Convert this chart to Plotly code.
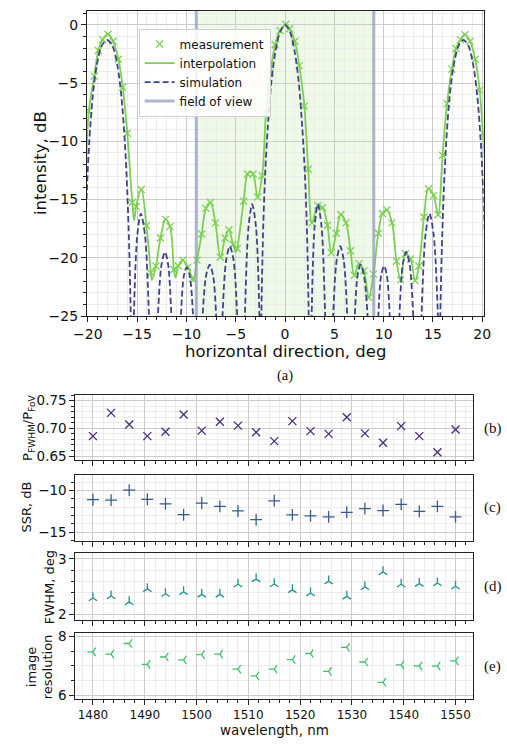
import plotly.graph_objects as go

# ---------------- panel (a) data ----------------
meas_deg = [-19.9, -19.35, -18.93, -18.5, -17.96, -17.44, -16.9, -16.46, -16.0, -15.49,
            -15.1, -14.58, -14.06, -13.6, -13.09, -12.63, -12.12, -11.66, -11.27, -10.82,
            -10.37, -9.85, -9.39, -8.93, -8.45, -8.03, -7.57, -7.06, -6.55, -6.08,
            -5.69, -5.27, -4.85, -4.2, -3.81, -3.23, -2.77, -2.32, -1.93, -1.48,
            -1.0, -0.5, 0.08, 0.47, 0.99, 1.44, 1.96, 2.35, 2.74, 3.33,
            3.81, 4.3, 4.69, 5.2, 5.66, 6.18, 6.64, 7.03, 7.51, 8.0,
            8.49, 8.97, 9.46, 9.88, 10.33, 10.85, 11.31, 11.73, 12.21, 12.73,
            13.19, 13.58, 14.09, 14.55, 15.07, 15.52, 15.98, 16.43, 16.92, 17.34,
            17.79, 18.25, 18.76, 19.29, 19.74, 20.07]
meas_db = [-7.4, -4.4, -2.2, -1.26, -0.8, -1.4, -2.95, -5.35, -9.3, -15.25,
           -15.6, -14.13, -17.23, -21.3, -20.7, -18.3, -16.7, -17.3, -21.0, -20.7,
           -20.2, -20.8, -21.8, -20.2, -17.96, -15.76, -15.25, -17.0, -19.95, -18.3,
           -17.6, -18.86, -19.2, -15.14, -12.8, -12.8, -14.78, -12.95, -7.6, -4.08,
           -1.7, -0.5, 0.05, -0.34, -1.4, -3.5, -6.98, -12.4, -17.0, -15.5,
           -15.7, -17.2, -19.56, -17.9, -16.3, -17.0, -19.4, -21.5, -20.5, -21.1,
           -23.4, -21.4, -17.9, -16.2, -15.9, -17.0, -20.3, -21.9, -19.65, -20.1,
           -21.96, -20.7, -16.5, -14.07, -14.64, -16.3, -11.2, -6.76, -3.8, -2.03,
           -1.27, -0.84, -1.4, -2.95, -5.6, -9.3]

# extra points of the interpolated curve (dips between measurements, ends)
interp_extra_deg = [-20.2, -15.3, -13.5, -11.1, -9.3, -4.97, -3.5, 20.25]
interp_extra_db = [-13.0, -16.8, -21.9, -21.7, -22.0, -19.5, -12.6, -11.5]

sim_deg = [-20.45, -20.3, -20.1, -19.85, -19.5, -19.1, -18.6, -18.05, -17.5, -17.0,
           -16.6, -16.25, -16.0, -15.8, -15.65, -15.5,
           -15.33, -14.98, -14.62, -14.21, -13.8, -13.35,
           -12.89, -12.53, -12.18, -11.85, -11.53, -11.05,
           -10.56, -10.27, -9.98, -9.65, -9.33, -8.85,
           -8.36, -8.0, -7.64, -7.3, -6.99, -6.65,
           -6.34, -5.97, -5.6, -5.22, -4.85, -4.45,
           -4.07, -3.7, -3.33, -2.95, -2.6, -2.5,
           -2.4, -2.2, -2.0, -1.75, -1.4, -1.0, -0.5, 0.0, 0.5, 1.0,
           1.4, 1.75, 2.0, 2.2, 2.4, 2.55,
           2.7, 3.0, 3.33, 3.7, 4.07, 4.47,
           4.88, 5.24, 5.6, 5.95, 6.31, 6.7,
           7.08, 7.36, 7.65, 8.0, 8.37, 8.9,
           9.46, 9.75, 10.05, 10.33, 10.62, 11.1,
           11.6, 11.94, 12.28, 12.64, 13.0, 13.4,
           13.84, 14.25, 14.65, 15.07, 15.5, 15.65,
           15.75, 15.9, 16.1, 16.35, 16.7, 17.1, 17.6, 18.1, 18.6, 19.1,
           19.5, 19.85, 20.1, 20.3, 20.45]
sim_db = [-25, -19.3, -14.3, -10.0, -6.1, -3.5, -1.8, -1.3, -1.8, -3.5,
          -6.1, -10.0, -14.3, -19.3, -25, -40,
          -25, -18.0, -16.2, -18.0, -25, -40,
          -25, -20.6, -19.5, -20.6, -25, -40,
          -25, -21.6, -20.8, -21.6, -25, -40,
          -25, -21.5, -20.6, -21.5, -25, -40,
          -25, -20.2, -19.0, -20.2, -25, -40,
          -25, -17.3, -15.4, -17.3, -25, -40,
          -25, -17.0, -12.5, -8.8, -5.0, -2.4, -0.6, 0.0, -0.6, -2.4,
          -5.0, -8.8, -12.5, -17.0, -25, -40,
          -25, -17.3, -15.4, -17.3, -25, -40,
          -25, -20.2, -19.0, -20.2, -25, -40,
          -25, -21.5, -20.6, -21.5, -25, -40,
          -25, -21.5, -20.7, -21.5, -25, -40,
          -25, -20.6, -19.5, -20.6, -25, -40,
          -25, -18.0, -16.2, -18.0, -25, -40,
          -25, -19.3, -14.3, -10.0, -6.1, -3.5, -1.8, -1.3, -1.8, -3.5,
          -6.1, -10.0, -14.3, -19.3, -25]

fov_deg = [-9, 9]
a_xrange = [-20.1, 20.15]
a_yrange = [-25, 1.2]

# ---------------- panels (b)-(e) data ----------------
wavelength = [1480, 1483.5, 1487, 1490.5, 1494, 1497.5, 1501, 1504.5, 1508, 1511.5,
              1515, 1518.5, 1522, 1525.5, 1529, 1532.5, 1536, 1539.5, 1543, 1546.5, 1550]
p_ratio = [0.686, 0.728, 0.707, 0.686, 0.694, 0.725, 0.696, 0.712, 0.705, 0.693,
           0.677, 0.713, 0.695, 0.690, 0.720, 0.691, 0.674, 0.704, 0.686, 0.657, 0.698]
ssr = [-11.1, -11.15, -9.96, -11.05, -11.6, -12.9, -11.5, -11.9, -12.45, -13.5,
       -11.23, -12.92, -13.04, -13.16, -12.61, -12.17, -12.4, -11.66, -12.5, -11.9, -13.16]
fwhm = [2.298, 2.333, 2.228, 2.462, 2.374, 2.409, 2.363, 2.363, 2.544, 2.637,
        2.55, 2.444, 2.386, 2.60, 2.327, 2.497, 2.766, 2.544, 2.556, 2.567, 2.509]
resolution = [7.475, 7.40, 7.76, 7.05, 7.30, 7.20, 7.38, 7.40, 6.885, 6.66,
              6.885, 7.21, 7.42, 6.81, 7.63, 7.13, 6.44, 7.03, 7.00, 6.99, 7.17]

W, H = 507, 749
def fx(p):
    return p / W
def fy(p):
    return 1 - p / H

GREEN = '#7ad151'
NAVY = '#3f4488'
FOV = 'rgba(150,155,190,0.75)'
FONT = 'DejaVu Sans'
SERIF = 'Liberation Serif'

# merge interpolation points
pairs = sorted(list(zip(meas_deg, meas_db)) + list(zip(interp_extra_deg, interp_extra_db)))
interp_deg = [p[0] for p in pairs]
interp_db = [p[1] for p in pairs]

fig = go.Figure()
fig.add_trace(go.Scatter(x=meas_deg, y=meas_db, mode='markers', name='measurement',
                         marker=dict(symbol='x-thin', size=7, line=dict(width=1.3, color=GREEN), color=GREEN),
                         xaxis='x', yaxis='y'))
fig.add_trace(go.Scatter(x=interp_deg, y=interp_db, mode='lines', name='interpolation',
                         line=dict(color=GREEN, width=1.8, shape='spline', smoothing=1.0),
                         xaxis='x', yaxis='y'))
fig.add_trace(go.Scatter(x=sim_deg, y=sim_db, mode='lines', name='simulation',
                         line=dict(color=NAVY, width=1.8, dash='6px,3px', shape='spline', smoothing=0.8),
                         xaxis='x', yaxis='y'))
fig.add_trace(go.Scatter(x=[fov_deg[0], fov_deg[0], None, fov_deg[1], fov_deg[1]],
                         y=[a_yrange[0], a_yrange[1], None, a_yrange[0], a_yrange[1]],
                         mode='lines', name='field of view',
                         line=dict(color=FOV, width=3), xaxis='x', yaxis='y'))

lower = [
    (p_ratio, 'x-thin', '#472d7b', 8, 2),
    (ssr, 'cross-thin', '#3b5a8c', 8.5, 3),
    (fwhm, 'y-up', '#23918c', 7, 4),
    (resolution, 'y-left', '#43bf71', 7, 5),
]
for vals, sym, col, sz, k in lower:
    fig.add_trace(go.Scatter(x=wavelength, y=vals, mode='markers', showlegend=False,
                             marker=dict(symbol=sym, size=sz, color=col, line=dict(width=1.3, color=col)),
                             xaxis='x%d' % k, yaxis='y%d' % k))

grid_major = '#cccccc'
grid_minor = '#ececec'

def axis_common(size):
    return dict(showline=True, mirror=True, linecolor='#222222', linewidth=1,
                ticks='outside', ticklen=5, tickwidth=1, tickcolor='#222222',
                showgrid=True, gridcolor=grid_major, gridwidth=1, zeroline=False,
                tickfont=dict(family=FONT, size=size, color='#111111'))

layout = dict(
    width=W, height=H, margin=dict(l=0, r=0, t=0, b=0),
    paper_bgcolor='white', plot_bgcolor='white',
    showlegend=True,
    legend=dict(x=fx(130), y=fy(24), xanchor='left', yanchor='top',
                bgcolor='rgba(255,255,255,0.85)', bordercolor='#cfcfcf', borderwidth=1,
                font=dict(family=FONT, size=12, color='#111111'), traceorder='normal',
                itemwidth=30, tracegroupgap=0),
)

xa = axis_common(14)
xa.update(domain=[fx(76), fx(490)], range=a_xrange, anchor='y', dtick=5, tick0=0,
          minor=dict(dtick=1, ticks='outside', ticklen=3, tickcolor='#222222', showgrid=True,
                     gridcolor=grid_minor))
ya = axis_common(14)
ya.update(domain=[fy(316.5), fy(6)], range=a_yrange, anchor='x', dtick=5, tick0=0,
          minor=dict(dtick=1, ticks='outside', ticklen=3, tickcolor='#222222', showgrid=True,
                     gridcolor=grid_minor))
layout['xaxis'] = xa
layout['yaxis'] = ya

lower_y = [
    (2, [fy(463), fy(397)], [0.643, 0.76], 0.05, 0.01, '.2f'),
    (3, [fy(545), fy(478)], [-16.0, -8.1], 5, 1, None),
    (4, [fy(626), fy(558)], [1.9, 3.1], 1, 0.2, None),
    (5, [fy(706), fy(639)], [5.88, 8.12], 2, 0.5, None),
]
for k, dom, rng, dt, mdt, fmt in lower_y:
    xk = axis_common(12)
    xk.update(domain=[fx(64), fx(479)], range=[1476.6, 1553.4], anchor='y%d' % k,
              dtick=10, tick0=1480, showticklabels=(k == 5),
              minor=dict(dtick=2, ticks='outside', ticklen=3, tickcolor='#222222', showgrid=True,
                         gridcolor=grid_minor))
    yk = axis_common(13.5)
    yk.update(domain=dom, range=rng, anchor='x%d' % k, dtick=dt, tick0=0,
              minor=dict(dtick=mdt, ticks='outside', ticklen=3, tickcolor='#222222', showgrid=True,
                         gridcolor=grid_minor))
    if fmt:
        yk['tickformat'] = fmt
    layout['xaxis%d' % k] = xk
    layout['yaxis%d' % k] = yk

fig.update_layout(**layout)

fig.add_shape(type='rect', xref='x', yref='y domain', x0=fov_deg[0], x1=fov_deg[1], y0=0, y1=1,
              fillcolor='rgba(122,209,81,0.13)', line=dict(width=0), layer='below')

def ann(text, x, y, size, family=FONT, angle=0, xanchor='center'):
    fig.add_annotation(text=text, x=x, y=y, xref='paper', yref='paper', showarrow=False,
                       textangle=angle, xanchor=xanchor, yanchor='middle',
                       font=dict(family=family, size=size, color='#111111'))

ann('intensity, dB', fx(27), fy(161), 16.5, angle=-90)
ann('horizontal direction, deg', fx(283), fy(353), 16.5)
ann('(a)', fx(283), fy(377), 14.5, family=SERIF)
ann('P<sub>FWHM</sub>/P<sub>FoV</sub>', fx(15), fy(430), 13, angle=-90)
ann('SSR, dB', fx(13), fy(511), 13, angle=-90)
ann('FWHM, deg', fx(37), fy(592), 13, angle=-90)
ann('image<br>resolution', fx(27), fy(673), 13, angle=-90)
ann('wavelength, nm', fx(272), fy(738), 13.5)
for lab, yy in [('(b)', 431), ('(c)', 511), ('(d)', 592), ('(e)', 673)]:
    ann(lab, fx(488), fy(yy), 15, family=SERIF, xanchor='left')

fig.write_html('out.html')
